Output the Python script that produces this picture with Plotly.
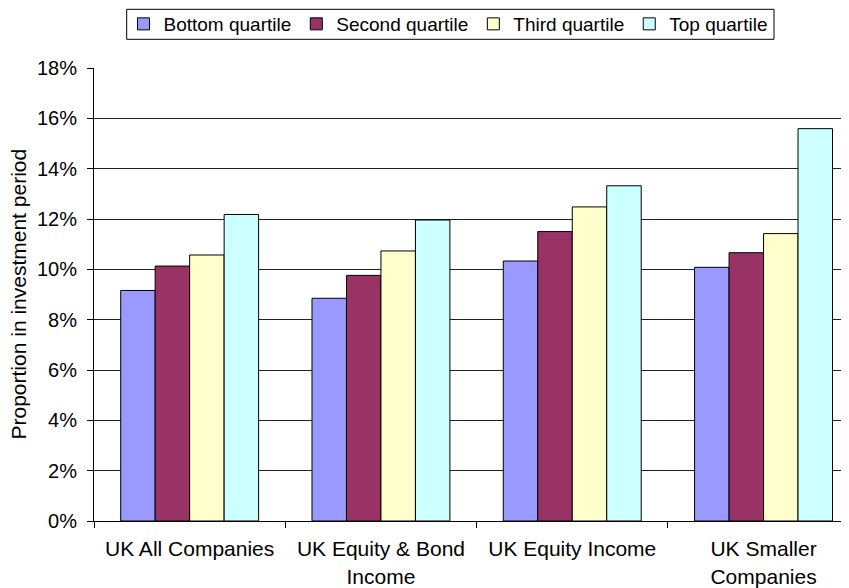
import plotly.graph_objects as go

categories = ["UK All Companies", "UK Equity & Bond<br>Income", "UK Equity Income", "UK Smaller<br>Companies"]
series_names = ["Bottom quartile", "Second quartile", "Third quartile", "Top quartile"]
bottom = [0.0916, 0.0885, 0.1033, 0.1008]
second = [0.1013, 0.0976, 0.1150, 0.1066]
third = [0.1057, 0.1073, 0.1248, 0.1142]
top = [0.1218, 0.1196, 0.1332, 0.1559]
colors = ["#9999FF", "#993366", "#FFFFCC", "#CCFFFF"]

FONT = "Liberation Sans, Arial, sans-serif"
fig = go.Figure()
for name, vals, col in zip(series_names, [bottom, second, third, top], colors):
    fig.add_trace(go.Bar(x=categories, y=vals, name=name,
                         marker=dict(color=col, line=dict(color="black", width=1))))

# page body has an 8px margin; figure coords = window coords - 8
W, H = 841, 580
ml, mr, mt, mb = 86, 0, 60, 67
plot_w = W - ml - mr
plot_h = H - mt - mb
plot_bottom = H - mb


def px_x(fx):
    return (fx - ml) / plot_w


def px_y(fy):
    return (plot_bottom - fy) / plot_h


fig.update_layout(
    width=W, height=H,
    margin=dict(l=ml, r=mr, t=mt, b=mb, autoexpand=False),
    paper_bgcolor="white", plot_bgcolor="white",
    barmode="group", bargap=0.279, bargroupgap=0,
    font=dict(family=FONT, size=20, color="black"),
    legend=dict(orientation="h", x=px_x(440), xanchor="center",
                y=px_y(16), yanchor="middle",
                bgcolor="rgba(0,0,0,0)", borderwidth=0, font=dict(size=19),
                itemwidth=30, tracegroupgap=0),
    xaxis=dict(type="category", range=[-0.5, 3.4467], showline=True, linecolor="black", linewidth=1,
               ticks="outside", tickson="boundaries", ticklen=6, tickcolor="black",
               showgrid=False, tickfont=dict(size=21), ticklabelstandoff=9),
    yaxis=dict(range=[0, 0.18], dtick=0.02, tickformat=".0%", showline=True, linecolor="black", linewidth=1,
               ticks="outside", ticklen=6, tickcolor="black", showgrid=True, gridcolor="#222222", gridwidth=1,
               tickfont=dict(size=20), zeroline=False, ticklabelstandoff=6),
    shapes=[dict(type="rect", xref="paper", yref="paper",
                 x0=px_x(118.7), x1=px_x(766), y0=px_y(31.3), y1=px_y(1.3),
                 line=dict(color="black", width=1), fillcolor="rgba(0,0,0,0)", layer="above")],
    annotations=[dict(text="Proportion in investment period", textangle=-90, xref="paper", yref="paper",
                      x=px_x(10), y=0.5, xanchor="center", yanchor="middle", showarrow=False,
                      font=dict(size=21))],
)
fig.write_html("out.html")
